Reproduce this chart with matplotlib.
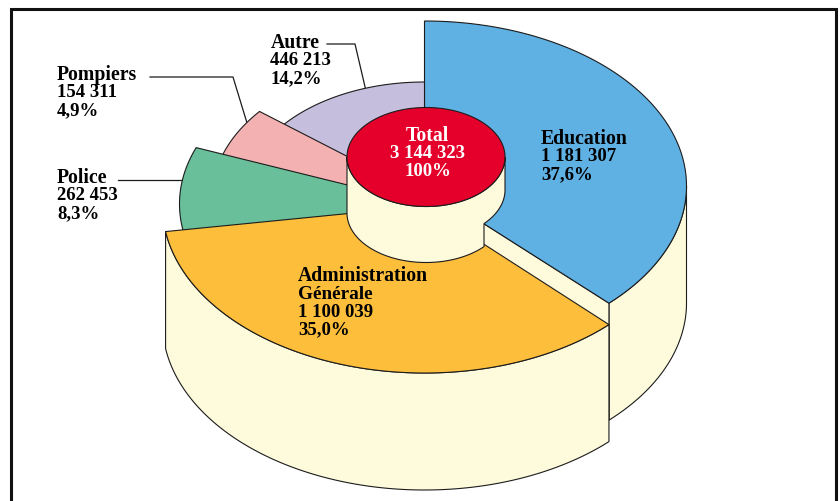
import numpy as np
import matplotlib
matplotlib.use("Agg")
import matplotlib.pyplot as plt
from matplotlib.patches import Polygon, Rectangle

names = ["Education", "Administration\nGénérale", "Police", "Pompiers", "Autre"]
values = [1181307, 1100039, 262453, 154311, 446213]
percents = ["37,6%", "35,0%", "8,3%", "4,9%", "14,2%"]
total_label = ["Total", "3 144 323", "100%"]

colors = ["#5FB0E3", "#FDBE3C", "#68BF9A", "#F4B1B2", "#C5BEDD"]
wall_color = "#FEFADC"
red = "#E4002B"
edge = "#1c1c1c"
lw = 0.8

CX = 424.5
RATIO = 0.635
TUCK = 15  # degrees a back slice runs on under its neighbour


def ellipse_pts(cy, rx, a0, a1, cx=CX, ry=None):
    """Arc points, angles in degrees clockwise from the top."""
    if ry is None:
        ry = rx * RATIO
    a = np.radians(np.linspace(a0, a1, 200))
    return np.column_stack([cx + rx * np.sin(a), cy - ry * np.cos(a)])


def wedge(ax, cy, rx, a0, a1, color, z, ry=None):
    pts = np.vstack([[CX, cy], ellipse_pts(cy, rx, a0, a1, ry=ry)])
    ax.add_patch(Polygon(pts, closed=True, fc=color, ec=edge, lw=lw, zorder=z))


def fmt(v):
    return f"{v:,}".replace(",", " ")


def label(ax, x, y, lines, color="black", ha="left", step=17.4):
    for i, line in enumerate(lines):
        # names are set wider than the figures in the original face
        size = 13.5 if line[0].isdigit() else 14.2
        if line == "Générale":
            size = 13.9
        ax.text(x[i] if isinstance(x, list) else x, y + i * step, line,
                fontsize=size, fontweight="bold", family="Liberation Serif",
                color=color, ha=ha, va="baseline", zorder=20)


def main():
    fig = plt.figure(figsize=(8.4, 5.02), dpi=100)
    ax = fig.add_axes([0, 0, 1, 1])
    ax.set_xlim(0, 840)
    ax.set_ylim(502, 0)
    ax.axis("off")

    # frame, runs off the bottom of the page
    ax.add_patch(Rectangle((10.5, 9.5), 825.5, 520, fc="white", ec="#111111", lw=2.2, zorder=0))

    angles = np.cumsum([0] + values) / sum(values) * 360

    # slice geometry: centre y, x radius
    edu_cy, edu_rx, edu_h = 187, 262, 117
    adm_cy, adm_rx, adm_h = 207, 262, 117

    # education walls
    a0, a1 = angles[0], angles[1]
    rim = ellipse_pts(edu_cy, edu_rx, 90, a1, ry=165)
    wall = np.vstack([rim, (rim + [0, edu_h])[::-1]])
    ax.add_patch(Polygon(wall, closed=True, fc=wall_color, ec=edge, lw=lw, zorder=2))
    cut = np.array([[CX, edu_cy], rim[-1], rim[-1] + [0, edu_h], [CX, edu_cy + edu_h]])
    ax.add_patch(Polygon(cut, closed=True, fc=wall_color, ec=edge, lw=lw, zorder=2))
    wedge(ax, edu_cy, edu_rx, a0, a1, colors[0], 3, ry=165)

    # small slices at the back
    wedge(ax, 196, 180, angles[4] - TUCK, angles[5], colors[4], 4, ry=113)
    wedge(ax, 197, 212, angles[3] - TUCK, angles[4], colors[3], 5)
    wedge(ax, 205, 245, angles[2] - TUCK, angles[3], colors[2], 6)

    # administration
    a0, a1 = angles[1], angles[2]
    rim = ellipse_pts(adm_cy, adm_rx, a0, a1, ry=167)
    wall = np.vstack([rim, (rim + [0, adm_h])[::-1]])
    ax.add_patch(Polygon(wall, closed=True, fc=wall_color, ec=edge, lw=lw, zorder=7))
    wedge(ax, adm_cy, adm_rx, a0, a1, colors[1], 8, ry=167)

    # central cylinder
    icx, irx, iry = 426, 79, 49.5
    notch = np.degrees(np.arcsin((484 - icx) / irx))
    lower = ellipse_pts(214, irx, 270, 180 - notch, cx=icx, ry=iry)
    upper = ellipse_pts(191, irx, 180 - notch, 90, cx=icx, ry=iry)
    top_back = ellipse_pts(158, irx, 90, 270, cx=icx, ry=iry)
    body = np.vstack([lower, upper, top_back])
    ax.add_patch(Polygon(body, closed=True, fc=wall_color, ec=edge, lw=lw, zorder=9))
    disc = ellipse_pts(158, irx, 0, 360, cx=icx, ry=iry)
    ax.add_patch(Polygon(disc, closed=True, fc=red, ec=edge, lw=lw, zorder=10))

    # leader lines
    ax.plot([327, 355, 366], [45, 45, 92], color=edge, lw=0.9, zorder=3)
    ax.plot([150, 233, 247], [78, 78, 124], color=edge, lw=0.9, zorder=3)
    ax.plot([118, 182], [181, 181], color=edge, lw=0.9, zorder=3)

    # labels
    rows = [n.split("\n") + [fmt(v), p] for n, v, p in zip(names, values, percents)]
    label(ax, 541, 144, rows[0])
    label(ax, 298, 281, rows[1], step=17.9)
    label(ax, 57, 183, rows[2])
    label(ax, 57, 80, rows[3])
    label(ax, [271, 270, 270], 48, rows[4])
    label(ax, 427.5, 141, total_label, color="white", ha="center")

    fig.savefig("out.png", dpi=100)


if __name__ == "__main__":
    main()
